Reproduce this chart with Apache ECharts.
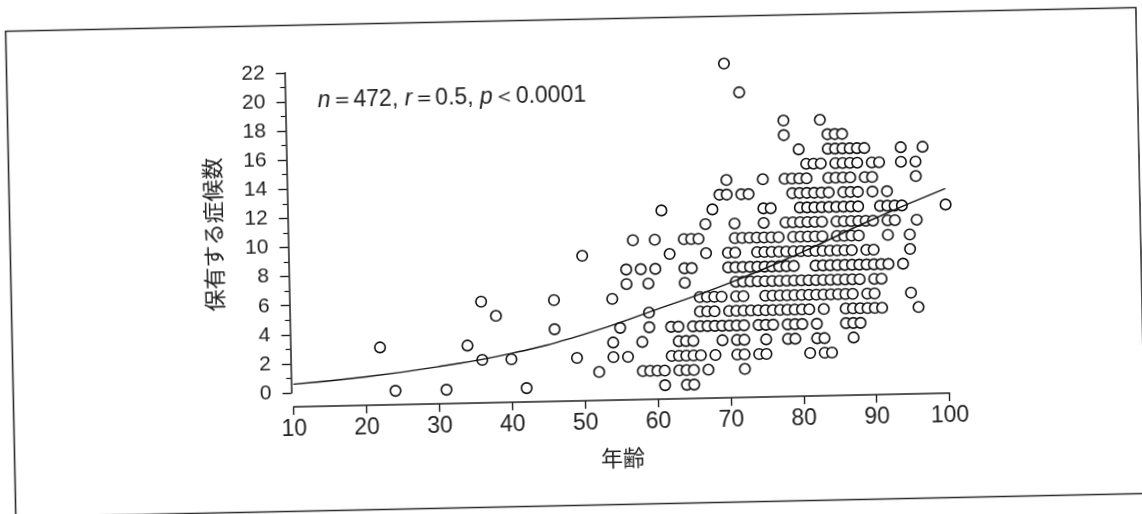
<!DOCTYPE html>
<html>
<head>
<meta charset="utf-8">
<script src="https://cdn.jsdelivr.net/npm/echarts@6/dist/echarts.min.js"></script>
<style>
  html, body { margin: 0; padding: 0; background: #ffffff; }
  #chart { width: 1142px; height: 514px; transform: rotate(-1.2deg); transform-origin: 50% 50%; }
</style>
</head>
<body>
<div id="chart"></div>
<script>
// ---- data ----
// symptom counts (y) 0..22 ; for each count, the ages (x) at which a circle is visible
const countLevels = [0,1,2,3,4,5,6,7,8,9,10,11,12,13,14,15,16,17,18,19,20,21,22];
const agesAt0  = [24,31,42,61,64,65];
const agesAt1  = [52,58,59,60,61,63,64,65,67,72];
const agesAt2  = [36,40,49,54,56,62,63,64,65,66,68,71,72,74,75,81,83,84];
const agesAt3  = [22,34,54,58,63,64,65,69,71,72,75,78,79,82,83,87];
const agesAt4  = [46,55,59,62,63,65,66,67,68,69,70,71,72,74,75,76,78,79,80,82,86,87,88];
const agesAt5  = [38,59,66,67,68,70,71,72,73,74,75,76,77,78,79,80,81,83,86,87,88,89,90,91,96];
const agesAt6  = [36,46,54,66,67,68,69,71,72,75,76,77,78,79,80,81,82,83,84,85,86,87,89,90,95];
const agesAt7  = [56,59,64,71,72,73,74,75,76,77,78,79,80,81,82,83,84,85,86,87,88,90,91];
const agesAt8  = [56,58,60,64,65,70,71,72,73,74,75,76,77,78,79,82,83,84,85,86,87,88,89,90,91,92,94];
const agesAt9  = [50,62,67,70,71,74,75,76,77,78,79,80,81,82,83,84,85,86,87,89,90,95];
const agesAt10 = [57,60,64,65,66,71,72,73,74,75,76,77,79,80,81,82,83,85,86,87,88,92,95];
const agesAt11 = [67,71,75,78,79,80,81,82,83,85,86,87,88,89,90,92,93,96];
const agesAt12 = [61,68,75,76,80,81,82,83,84,85,86,87,88,91,92,93,94,100];
const agesAt13 = [69,70,72,73,79,80,81,82,83,84,86,87,88,90,92];
const agesAt14 = [70,75,78,79,80,81,84,85,86,87,89,90,96];
const agesAt15 = [81,82,83,85,86,87,88,90,91,94,96];
const agesAt16 = [80,84,85,86,87,88,89,94,97];
const agesAt17 = [78,84,85,86];
const agesAt18 = [78,83];
const agesAt19 = [];
const agesAt20 = [72];
const agesAt21 = [];
const agesAt22 = [70];
const agesByCount = [agesAt0,agesAt1,agesAt2,agesAt3,agesAt4,agesAt5,agesAt6,agesAt7,agesAt8,agesAt9,
  agesAt10,agesAt11,agesAt12,agesAt13,agesAt14,agesAt15,agesAt16,agesAt17,agesAt18,agesAt19,agesAt20,agesAt21,agesAt22];

// regression curve
const fitAges   = [10, 20, 30, 40, 50, 60, 70, 80, 90, 100];
const fitValues = [0.6, 1.0, 1.6, 2.4, 3.6, 5.2, 6.9, 8.9, 11.1, 13.1];

// axis ticks
const xTicks = [10, 20, 30, 40, 50, 60, 70, 80, 90, 100];
const yTicks = [0, 2, 4, 6, 8, 10, 12, 14, 16, 18, 20, 22];

// ---- build series data ----
const points = [];
countLevels.forEach(function (v) {
  agesByCount[v].forEach(function (a) { points.push([a, v]); });
});
points.sort(function (p, q) { return p[0] - q[0] || p[1] - q[1]; });
const fitData = fitAges.map(function (a, i) { return [a, fitValues[i]]; });

const latin = '"Liberation Sans", Arial, Helvetica, sans-serif';
const cjk = '"Noto Sans CJK JP", "Liberation Sans", sans-serif';
const ink = '#1e1e1e';

const chart = echarts.init(document.getElementById('chart'), null, { renderer: 'canvas' });
chart.setOption({
  animation: false,
  backgroundColor: '#ffffff',
  grid: { left: 290.7, right: 195.4, top: 66.8, bottom: 126.9, containLabel: false },
  title: {
    text: '{i|n}＝472, {i|r}＝0.5, {i|p}＜0.0001',
    left: 316, top: 79,
    textStyle: {
      fontSize: 23, fontWeight: 'normal', color: ink, fontFamily: latin,
      rich: { i: { fontStyle: 'italic', fontSize: 23, color: ink, fontFamily: latin } }
    }
  },
  graphic: [{
    type: 'rect', silent: true, z: 0,
    shape: { x: 10.5, y: 19.5, width: 1130.5, height: 486 },
    style: { fill: 'none', stroke: '#2a2a2a', lineWidth: 1.6 }
  }],
  xAxis: {
    type: 'value', min: xTicks[0], max: xTicks[xTicks.length - 1], interval: 10,
    offset: 14,
    axisLine: { show: true, onZero: false, lineStyle: { color: ink, width: 1.5 } },
    axisTick: { show: true, length: 8, lineStyle: { color: ink, width: 1.4 } },
    splitLine: { show: false },
    axisLabel: { fontSize: 23, margin: 11, color: ink, fontFamily: latin },
    name: '年齢', nameLocation: 'middle', nameGap: 47,
    nameTextStyle: { fontSize: 22, color: ink, fontFamily: cjk }
  },
  yAxis: {
    type: 'value', min: yTicks[0], max: yTicks[yTicks.length - 1], interval: 2,
    offset: 2,
    axisLine: { show: true, onZero: false, lineStyle: { color: ink, width: 1.5 } },
    axisTick: { show: true, length: 9, lineStyle: { color: ink, width: 1.4 } },
    minorTick: { show: true, splitNumber: 2, length: 5, lineStyle: { color: ink, width: 1.2 } },
    splitLine: { show: false },
    minorSplitLine: { show: false },
    axisLabel: { fontSize: 21, margin: 20, color: ink, fontFamily: latin },
    name: '保有する症候数', nameLocation: 'middle', nameGap: 64, nameRotate: 90,
    nameTextStyle: { fontSize: 22, color: ink, fontFamily: cjk }
  },
  series: [
    {
      type: 'scatter', data: points, symbol: 'circle', symbolSize: 10.5,
      itemStyle: { color: '#ffffff', borderColor: '#111111', borderWidth: 1.6, opacity: 1 },
      silent: true, z: 2, clip: false
    },
    {
      type: 'line', data: fitData, smooth: true, showSymbol: false, symbol: 'none',
      lineStyle: { color: '#111111', width: 1.4 },
      silent: true, z: 3
    }
  ]
});
</script>
</body>
</html>
